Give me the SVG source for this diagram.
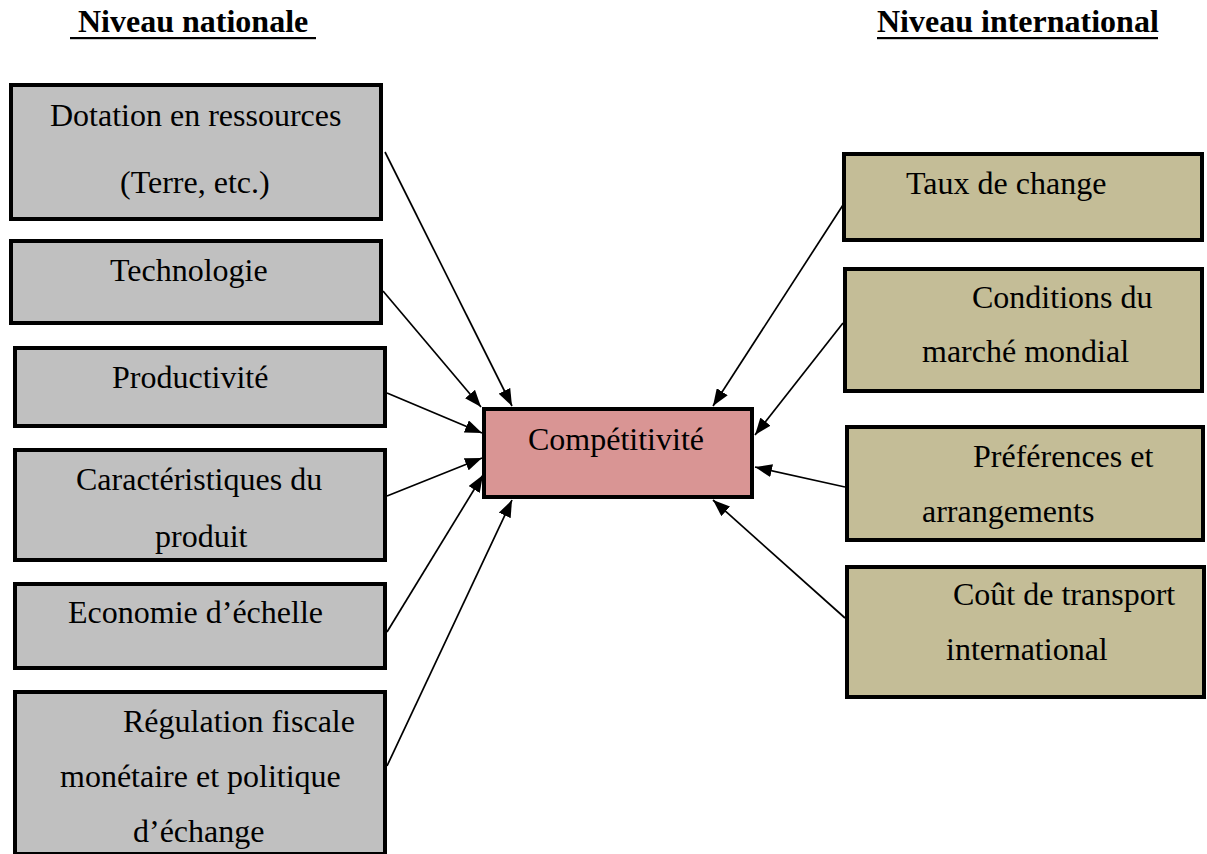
<svg xmlns="http://www.w3.org/2000/svg" width="1207" height="854" viewBox="0 0 1207 854">
<style>
  text { font-family: "Liberation Serif", "Times New Roman", serif; font-size: 32px; fill: #000; }
  .title { font-weight: bold; }
  .box { stroke: #000; stroke-width: 4; }
  .nat { fill: #C0C0C0; }
  .intl { fill: #C4BD97; }
  .core { fill: #D99594; }
  .conn { stroke: #000; stroke-width: 1.7; fill: none; marker-end: url(#arrow); }
</style>
<defs>
  <marker id="arrow" markerUnits="userSpaceOnUse" markerWidth="17" markerHeight="13" refX="17" refY="6.5" orient="auto">
    <path d="M0,0 L17,6.5 L0,13 z" fill="#000"/>
  </marker>
</defs>
<rect width="1207" height="854" fill="#fff"/>

<g id="titles">
  <text class="title" x="78" y="32">Niveau nationale</text>
  <rect x="70" y="37" width="246" height="2.2" fill="#000"/>
  <text class="title" x="877" y="32">Niveau international</text>
  <rect x="877" y="37" width="281" height="2.2" fill="#000"/>
</g>

<g id="connectors">
  <line class="conn" x1="385" y1="152" x2="512" y2="406"/>
  <line class="conn" x1="383" y1="291" x2="481" y2="407"/>
  <line class="conn" x1="387" y1="393" x2="482" y2="433"/>
  <line class="conn" x1="387" y1="496" x2="482" y2="458"/>
  <line class="conn" x1="387" y1="632" x2="483" y2="475"/>
  <line class="conn" x1="387" y1="766" x2="512" y2="500"/>
  <line class="conn" x1="843" y1="205" x2="713" y2="406"/>
  <line class="conn" x1="843" y1="323" x2="755" y2="435"/>
  <line class="conn" x1="845" y1="487" x2="755" y2="467"/>
  <line class="conn" x1="845" y1="618" x2="713" y2="500"/>
</g>

<g id="dotation">
  <rect class="box nat" x="11" y="85" width="370" height="134"/>
  <text x="50" y="126">Dotation en ressources</text>
  <text x="120" y="193">(Terre, etc.)</text>
</g>
<g id="technologie">
  <rect class="box nat" x="11" y="241" width="370" height="82"/>
  <text x="110" y="281">Technologie</text>
</g>
<g id="productivite">
  <rect class="box nat" x="15" y="348" width="370" height="78"/>
  <text x="112" y="388">Productivité</text>
</g>
<g id="caracteristiques">
  <rect class="box nat" x="15" y="450" width="370" height="110"/>
  <text x="76" y="490">Caractéristiques du</text>
  <text x="155" y="547">produit</text>
</g>
<g id="economie">
  <rect class="box nat" x="15" y="584" width="370" height="84"/>
  <text x="68" y="623">Economie d’échelle</text>
</g>
<g id="regulation">
  <rect class="box nat" x="15" y="692" width="370" height="162"/>
  <text x="123" y="732">Régulation fiscale</text>
  <text x="60" y="787">monétaire et politique</text>
  <text x="133" y="842">d’échange</text>
</g>

<g id="competitivite">
  <rect class="box core" x="484" y="409" width="268" height="88"/>
  <text x="528" y="450">Compétitivité</text>
</g>

<g id="taux">
  <rect class="box intl" x="844" y="154" width="358" height="86"/>
  <text x="906" y="194">Taux de change</text>
</g>
<g id="conditions">
  <rect class="box intl" x="845" y="269" width="357" height="122"/>
  <text x="972" y="308">Conditions du</text>
  <text x="922" y="362">marché mondial</text>
</g>
<g id="preferences">
  <rect class="box intl" x="847" y="427" width="356" height="113"/>
  <text x="973" y="467">Préférences et</text>
  <text x="922" y="522">arrangements</text>
</g>
<g id="cout">
  <rect class="box intl" x="847" y="567" width="357" height="130"/>
  <text x="953" y="605">Coût de transport</text>
  <text x="946" y="660">international</text>
</g>
</svg>
